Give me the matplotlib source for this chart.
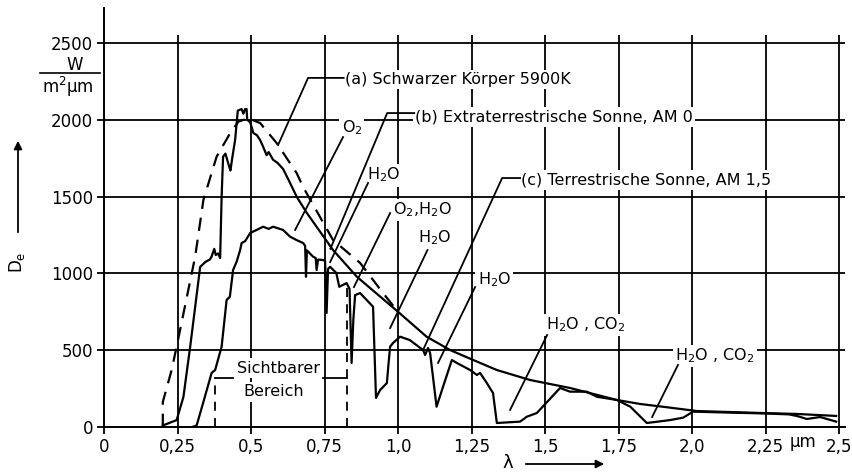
import numpy as np
import matplotlib
matplotlib.use("Agg")
import matplotlib.pyplot as plt

plt.rcParams['font.family'] = ['DejaVu Sans']
plt.rcParams['mathtext.default'] = 'regular'

# (a) Schwarzer Koerper 5900 K (gestrichelt)
lam_a = [0.20, 0.20, 0.23, 0.247, 0.31, 0.338, 0.383, 0.429, 0.457, 0.49, 0.531,
         0.587, 0.655, 0.677, 0.779, 0.871, 0.949, 1.0]
De_a = [0, 163, 371, 523, 1109, 1478, 1760, 1913, 1988, 2010, 1979,
        1849, 1654, 1563, 1217, 1068, 872, 750]

# (b) extraterrestrische Sonne, AM 0
lam_b = [0.20, 0.247, 0.27, 0.293, 0.327, 0.345, 0.36, 0.366, 0.375, 0.38, 0.388,
         0.395, 0.40, 0.405, 0.413, 0.425, 0.43, 0.436, 0.446, 0.455, 0.468, 0.474,
         0.48, 0.485, 0.487, 0.497, 0.508, 0.52, 0.531, 0.54, 0.553, 0.56, 0.575,
         0.59, 0.609, 0.63, 0.655, 0.69, 0.779, 0.86, 1.0, 1.097, 1.177, 1.256,
         1.336, 1.449, 1.585, 1.744, 1.823, 1.90, 2.016, 2.24, 2.356, 2.49]
De_b = [10, 45, 195, 521, 1042, 1075, 1090, 1110, 1160, 1120, 1130,
        1100, 1500, 1760, 1780, 1700, 1670, 1750, 1870, 2060, 2070, 2040,
        2070, 2070, 2000, 1985, 1914, 1900, 1868, 1830, 1770, 1790, 1740,
        1720, 1680, 1600, 1500, 1393, 1152, 978, 750, 588, 501, 436,
        371, 306, 254, 176, 150, 132, 104, 91, 85, 72]

# (c) terrestrische Sonne, AM 1,5
lam_c = [0.30, 0.315, 0.337, 0.366, 0.378, 0.40, 0.417, 0.428, 0.439, 0.451, 0.463,
         0.468, 0.48, 0.497, 0.519, 0.541, 0.56, 0.575, 0.609, 0.633, 0.655, 0.677,
         0.684, 0.687, 0.69, 0.711, 0.72, 0.723, 0.728, 0.745, 0.752, 0.757, 0.762,
         0.769, 0.79, 0.80, 0.825, 0.835, 0.842, 0.848, 0.854, 0.871, 0.915, 0.925,
         0.939, 0.962, 0.968, 0.973, 0.983, 1.007, 1.04, 1.085, 1.092, 1.102, 1.109,
         1.131, 1.153, 1.183, 1.20, 1.245, 1.268, 1.279, 1.302, 1.323, 1.336, 1.415,
         1.438, 1.472, 1.551, 1.585, 1.642, 1.676, 1.744, 1.79, 1.846, 1.925, 1.97,
         2.003, 2.10, 2.25, 2.33, 2.36, 2.39, 2.435, 2.49]
De_c = [0, 10, 156, 352, 371, 523, 827, 848, 1022, 1076, 1152,
        1198, 1210, 1263, 1283, 1304, 1290, 1304, 1283, 1239, 1217, 1198,
        1180, 978, 1150, 1109, 1100, 1022, 1090, 1087, 1080, 742, 1030,
        1043, 1003, 913, 937, 900, 417, 700, 859, 872, 783, 189,
        241, 286, 420, 523, 547, 588, 566, 501, 469, 514, 482,
        132, 262, 436, 417, 371, 339, 352, 286, 221, 26, 35,
        67, 91, 254, 230, 230, 197, 176, 132, 26, 45, 61,
        100, 95, 88, 82, 70, 52, 65, 35]

x_ticks = [0, 0.25, 0.5, 0.75, 1.0, 1.25, 1.5, 1.75, 2.0, 2.25, 2.5]
x_labels = ['0', '0,25', '0,5', '0,75', '1,0', '1,25', '1,5', '1,75', '2,0', '2,25', '2,5']
y_ticks = [0, 500, 1000, 1500, 2000, 2500]

W, H = 852, 473
fig = plt.figure(figsize=(W / 100, H / 100), dpi=100)
ax = fig.add_axes([104 / W, 46 / H, 741 / W, 419.3 / H])
ax.set_xlim(0, 2.52)
ax.set_ylim(0, 2730)

for s in ['top', 'right']:
    ax.spines[s].set_visible(False)
for s in ['left', 'bottom']:
    ax.spines[s].set_linewidth(1.4)

ax.hlines(y_ticks[1:], 0, 2.52, colors='black', lw=1.3, zorder=1)
ax.vlines(x_ticks[1:], 0, 2550, colors='black', lw=1.3, zorder=1)

ax.set_xticks(x_ticks)
ax.set_xticklabels(x_labels)
ax.set_yticks(y_ticks)
ax.tick_params(direction='out', length=5, width=1.3, labelsize=12, pad=3)

lw = 1.6
ax.plot(lam_a, De_a, color='black', lw=lw, dashes=(6, 4), zorder=4)
ax.plot(lam_b, De_b, color='black', lw=lw, zorder=4)
ax.plot(lam_c, De_c, color='black', lw=lw, zorder=4)

box = dict(facecolor='white', edgecolor='none', pad=1.5)
fs = 11.5


def label(x, y, s, ha='left'):
    ax.text(x, y, s, ha=ha, va='center', fontsize=fs, bbox=box, zorder=3)


def leader(xs, ys):
    ax.plot(xs, ys, color='black', lw=1.3, zorder=4)


label(0.82, 2265, '(a) Schwarzer Körper 5900K')
leader([0.592, 0.694, 0.815], [1836, 2273, 2273])

label(1.058, 2018, '(b) Extraterrestrische Sonne, AM 0')
leader([0.77, 0.963, 1.055], [1160, 2044, 2044])

label(1.418, 1608, '(c) Terrestrische Sonne, AM 1,5')
leader([1.085, 1.354, 1.415], [501, 1621, 1621])

label(0.843, 1947, 'O$_2$', ha='center')
leader([0.65, 0.813], [1283, 1888])

label(0.952, 1640, 'H$_2$O', ha='center')
leader([0.769, 0.898], [1074, 1589])

label(1.082, 1413, 'O$_2$,H$_2$O', ha='center')
leader([0.85, 0.973], [911, 1393])

label(1.126, 1230, 'H$_2$O', ha='center')
leader([0.973, 1.10], [644, 1152])

label(1.327, 957, 'H$_2$O', ha='center')
leader([1.136, 1.262], [417, 911])

label(1.64, 664, 'H$_2$O , CO$_2$', ha='center')
leader([1.381, 1.507], [111, 599])

label(2.078, 462, 'H$_2$O , CO$_2$', ha='center')
leader([1.864, 1.952], [65, 404])

# sichtbarer Bereich
ax.plot([0.378, 0.378], [0, 320], color='black', lw=1.3, dashes=(5, 4), zorder=4)
ax.plot([0.826, 0.826], [0, 950], color='black', lw=1.3, dashes=(5, 4), zorder=4)
leader([0.378, 0.44], [320, 320])
leader([0.745, 0.826], [320, 320])
label(0.592, 384, 'Sichtbarer', ha='center')
label(0.578, 228, 'Bereich', ha='center')

ax.text(2.378, -95, 'μm', ha='center', va='center', fontsize=12, clip_on=False)

# Achsenbeschriftung
fig.text(75 / W, 1 - 65 / H, 'W', ha='center', va='center', fontsize=12)
fig.add_artist(plt.Line2D([40 / W, 100 / W], [1 - 73 / H, 1 - 73 / H], color='black', lw=1.2))
fig.text(68 / W, 1 - 87 / H, 'm$^2$μm', ha='center', va='center', fontsize=12)
fig.text(17 / W, 1 - 262 / H, 'D$_e$', ha='center', va='center', fontsize=12, rotation=90)
fig.add_artist(matplotlib.patches.FancyArrowPatch((18 / W, 1 - 235 / H), (18 / W, 1 - 138 / H),
                                                  transform=fig.transFigure, arrowstyle='-|>',
                                                  mutation_scale=12, color='black', lw=1.3))
fig.text(508 / W, 1 - 463 / H, 'λ', ha='center', va='center', fontsize=13)
fig.add_artist(matplotlib.patches.FancyArrowPatch((523 / W, 1 - 464 / H), (607 / W, 1 - 464 / H),
                                                  transform=fig.transFigure, arrowstyle='-|>',
                                                  mutation_scale=12, color='black', lw=1.3))

fig.savefig('out.png', dpi=100)
